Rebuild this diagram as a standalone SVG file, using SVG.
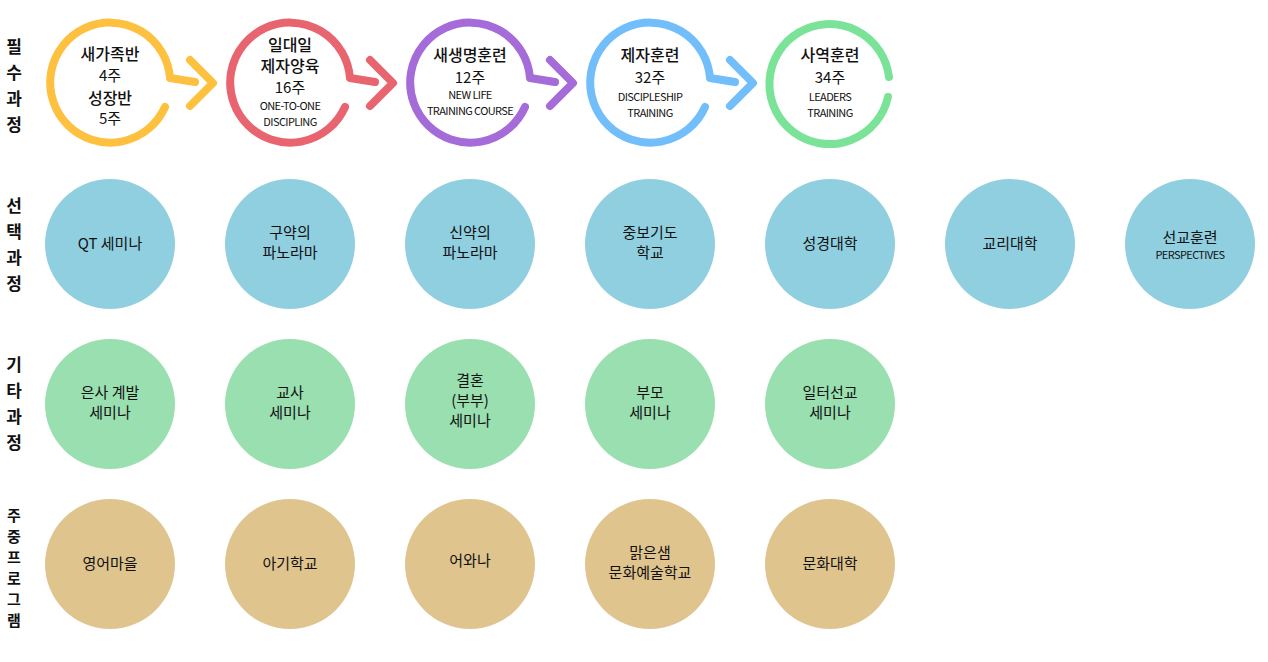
<svg xmlns="http://www.w3.org/2000/svg" width="1268" height="662" viewBox="0 0 1268 662">
<style>
text{font-family:"Noto Sans CJK KR","Noto Sans",sans-serif;fill:#111;text-anchor:middle}
.k{font-size:16px;font-weight:500}
.n{font-size:15px}
.e{font-size:11px;letter-spacing:-0.6px}
.side{font-size:17px;font-weight:bold}
.side2{font-size:15px;font-weight:bold}
.ring{fill:none;stroke-width:8;stroke-linecap:round;stroke-linejoin:round}
.s{fill:#8FCFE0}.o{fill:#99DFB0}.w{fill:#E0C48E}
</style>
<rect width="1268" height="662" fill="#fff"/>
<g id="labels">
<text class="side" x="14" y="53">필</text><text class="side" x="14" y="79">수</text><text class="side" x="14" y="105">과</text><text class="side" x="14" y="131">정</text>
<text class="side" x="14" y="212">선</text><text class="side" x="14" y="238">택</text><text class="side" x="14" y="264">과</text><text class="side" x="14" y="290">정</text>
<text class="side" x="14" y="371">기</text><text class="side" x="14" y="397">타</text><text class="side" x="14" y="423">과</text><text class="side" x="14" y="449">정</text>
<text class="side2" x="14" y="521">주</text><text class="side2" x="14" y="542">중</text><text class="side2" x="14" y="563">프</text><text class="side2" x="14" y="584">로</text><text class="side2" x="14" y="605">그</text><text class="side2" x="14" y="626">램</text>
</g>
<g id="connectors">
<path class="ring" stroke="#FDC13F" d="M165,107 A60,60 0 1 1 170,78 L195,82 M190,60 L213,83 L190,106"/>
<path class="ring" stroke="#E86570" d="M345,107 A60,60 0 1 1 350,78 L375,82 M370,60 L393,83 L370,106"/>
<path class="ring" stroke="#A46BD9" d="M525,107 A60,60 0 1 1 530,78 L555,82 M550,60 L573,83 L550,106"/>
<path class="ring" stroke="#72BEFA" d="M705,107 A60,60 0 1 1 710,78 L735,82 M730,60 L753,83 L730,106"/>
<path class="ring" stroke="#7AE398" d="M888,97 A60,60 0 1 1 889,77"/>
</g>
<g id="n1"><text class="k" x="110" y="60">새가족반</text><text class="n" x="110" y="81">4주</text><text class="k" x="110" y="104">성장반</text><text class="n" x="110" y="124">5주</text></g>
<g id="n2"><text class="k" x="290" y="51">일대일</text><text class="k" x="290" y="72">제자양육</text><text class="n" x="290" y="93">16주</text><text class="e" x="290" y="110">ONE-TO-ONE</text><text class="e" x="290" y="126">DISCIPLING</text></g>
<g id="n3"><text class="k" x="470" y="61">새생명훈련</text><text class="n" x="470" y="83">12주</text><text class="e" x="470" y="99">NEW LIFE</text><text class="e" x="470" y="115">TRAINING COURSE</text></g>
<g id="n4"><text class="k" x="650" y="61">제자훈련</text><text class="n" x="650" y="83">32주</text><text class="e" x="650" y="101">DISCIPLESHIP</text><text class="e" x="650" y="117">TRAINING</text></g>
<g id="n5"><text class="k" x="830" y="61">사역훈련</text><text class="n" x="830" y="83">34주</text><text class="e" x="830" y="101">LEADERS</text><text class="e" x="830" y="117">TRAINING</text></g>

<g id="s1"><circle class="s" cx="110" cy="244" r="65"/><text class="n" x="110" y="249">QT 세미나</text></g>
<g id="s2"><circle class="s" cx="290" cy="244" r="65"/><text class="n" x="290" y="238">구약의</text><text class="n" x="290" y="258">파노라마</text></g>
<g id="s3"><circle class="s" cx="470" cy="244" r="65"/><text class="n" x="470" y="238">신약의</text><text class="n" x="470" y="258">파노라마</text></g>
<g id="s4"><circle class="s" cx="650" cy="244" r="65"/><text class="n" x="650" y="238">중보기도</text><text class="n" x="650" y="258">학교</text></g>
<g id="s5"><circle class="s" cx="830" cy="244" r="65"/><text class="n" x="830" y="249">성경대학</text></g>
<g id="s6"><circle class="s" cx="1010" cy="244" r="65"/><text class="n" x="1010" y="249">교리대학</text></g>
<g id="s7"><circle class="s" cx="1190" cy="244" r="65"/><text class="n" x="1190" y="243">선교훈련</text><text class="e" x="1190" y="259">PERSPECTIVES</text></g>

<g id="o1"><circle class="o" cx="110" cy="404" r="65"/><text class="n" x="110" y="398">은사 계발</text><text class="n" x="110" y="418">세미나</text></g>
<g id="o2"><circle class="o" cx="290" cy="404" r="65"/><text class="n" x="290" y="398">교사</text><text class="n" x="290" y="418">세미나</text></g>
<g id="o3"><circle class="o" cx="470" cy="404" r="65"/><text class="n" x="470" y="386">결혼</text><text class="n" x="470" y="406">(부부)</text><text class="n" x="470" y="426">세미나</text></g>
<g id="o4"><circle class="o" cx="650" cy="404" r="65"/><text class="n" x="650" y="398">부모</text><text class="n" x="650" y="418">세미나</text></g>
<g id="o5"><circle class="o" cx="830" cy="404" r="65"/><text class="n" x="830" y="398">일터선교</text><text class="n" x="830" y="418">세미나</text></g>

<g id="w1"><circle class="w" cx="110" cy="564" r="65"/><text class="n" x="110" y="569">영어마을</text></g>
<g id="w2"><circle class="w" cx="290" cy="564" r="65"/><text class="n" x="290" y="569">아기학교</text></g>
<g id="w3"><circle class="w" cx="470" cy="564" r="65"/><text class="n" x="470" y="566">어와나</text></g>
<g id="w4"><circle class="w" cx="650" cy="564" r="65"/><text class="n" x="650" y="558">맑은샘</text><text class="n" x="650" y="578">문화예술학교</text></g>
<g id="w5"><circle class="w" cx="830" cy="564" r="65"/><text class="n" x="830" y="569">문화대학</text></g>
</svg>
